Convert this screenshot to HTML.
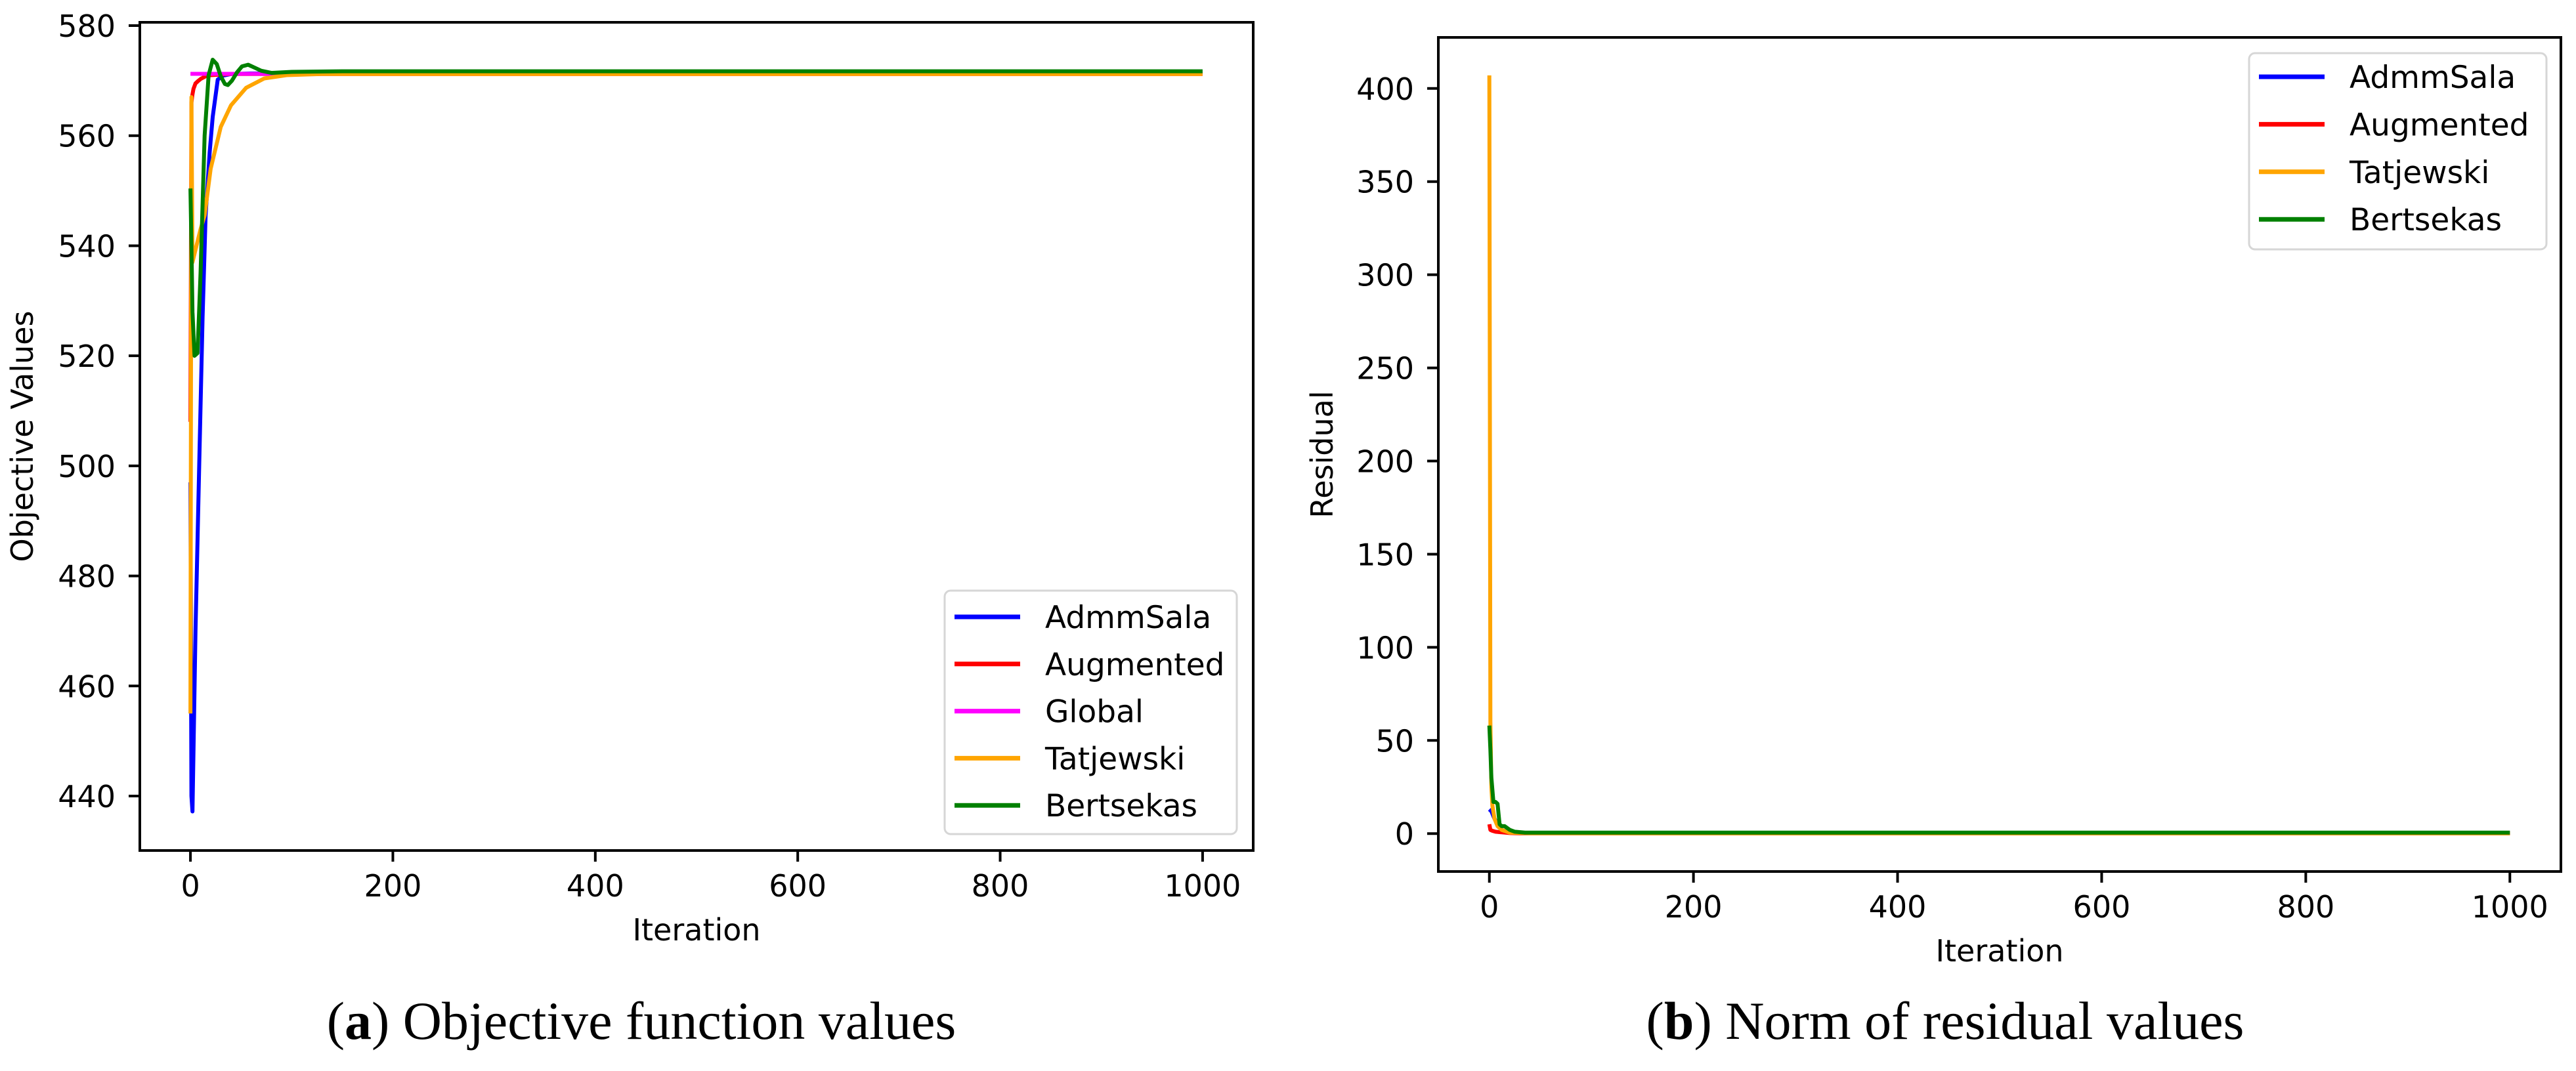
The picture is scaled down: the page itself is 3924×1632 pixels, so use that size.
<!DOCTYPE html>
<html><head><meta charset="utf-8"><title>Objective and residual plots</title>
<style>
html,body{margin:0;padding:0;background:#fff;}
svg{display:block;}
text{font-family:"DejaVu Sans","Liberation Sans",sans-serif;fill:#000;}
.cap{font-family:"Liberation Serif",serif;}
</style></head>
<body>
<svg id="fig" width="3924" height="1632" viewBox="0 0 3924 1632" xmlns="http://www.w3.org/2000/svg">
<g id="chartA"></g>
<g id="chartB"></g>
<text class="cap" x="977" y="1583" font-size="82" text-anchor="middle">(<tspan font-weight="bold">a</tspan>) Objective function values</text>
<text class="cap" x="2963" y="1583" font-size="82" text-anchor="middle">(<tspan font-weight="bold">b</tspan>) Norm of residual values</text>
</svg>
<script>
// ---- Chart A data (objective values) ----
const xTicksA = [0, 200, 400, 600, 800, 1000];
const yTicksA = [440, 460, 480, 500, 520, 540, 560, 580];
const seriesNamesA = ["AdmmSala", "Augmented", "Global", "Tatjewski", "Bertsekas"];
const admmIterA = [0, 1, 2, 5, 9, 12, 15, 19, 22, 27, 32, 40, 60, 1000];
const admmValA = [497, 440, 437.2, 470, 503, 527, 545.5, 557, 563.4, 570.2, 570.9, 571.2, 571.3, 571.3];
const augIterA = [0, 1, 2, 3, 5, 8, 10, 15, 20, 40, 1000];
const augValA = [508, 566, 567.5, 568.5, 569.5, 570, 570.3, 570.8, 571, 571.2, 571.2];
const globalIterA = [0, 1000];
const globalValA = [571.24, 571.24];
const tatIterA = [0, 1, 2, 6, 10, 14, 20, 30, 40, 55, 73, 95, 130, 200, 1000];
const tatValA = [455, 567, 537, 540, 543, 545.5, 554, 561.6, 565.5, 568.7, 570.4, 571, 571.2, 571.2, 571.2];
const bertIterA = [0, 1, 2, 4, 7, 10, 14, 18, 22, 26, 30, 34, 37, 41, 46, 51, 57, 63, 70, 80, 100, 150, 1000];
const bertValA = [550.4, 540, 528, 520, 520.5, 535, 560, 571, 573.8, 573, 570.8, 569.4, 569.2, 570, 571.5, 572.6, 572.9, 572.4, 571.8, 571.4, 571.6, 571.7, 571.7];

// ---- Chart B data (residuals) ----
const xTicksB = [0, 200, 400, 600, 800, 1000];
const yTicksB = [0, 50, 100, 150, 200, 250, 300, 350, 400];
const seriesNamesB = ["AdmmSala", "Augmented", "Tatjewski", "Bertsekas"];
const admmIterB = [0, 2, 5, 8, 12, 20, 30, 1000];
const admmValB = [13, 12, 8, 5, 2, 0.5, 0.3, 0.3];
const augIterB = [0, 1, 3, 6, 10, 20, 30, 1000];
const augValB = [5, 2, 1.5, 1, 0.8, 0.3, 0.1, 0.1];
const tatIterB = [0, 1, 2, 3, 5, 8, 12, 20, 40, 1000];
const tatValB = [407, 60, 25, 15, 8, 4, 2, 0.5, 0.1, 0.1];
const bertIterB = [0, 1, 2, 4, 6, 8, 10, 12, 15, 20, 25, 35, 1000];
const bertValB = [58, 45, 30, 17, 17, 16, 5, 4, 4, 2, 1, 0.5, 0.5];

const NS = "http://www.w3.org/2000/svg";
function mk(tag, attrs, parent) {
  const e = document.createElementNS(NS, tag);
  for (const k in attrs) e.setAttribute(k, attrs[k]);
  parent.appendChild(e);
  return e;
}

function drawChart(g, cfg) {
  const sx = v => cfg.left + (v - cfg.xmin) / (cfg.xmax - cfg.xmin) * (cfg.right - cfg.left);
  const sy = v => cfg.bottom - (v - cfg.ymin) / (cfg.ymax - cfg.ymin) * (cfg.bottom - cfg.top);
  // series
  cfg.series.forEach(s => {
    const pts = s.it.map((x, i) => sx(x).toFixed(1) + "," + sy(s.val[i]).toFixed(1)).join(" ");
    const pl = mk("polyline", {points: pts, fill: "none", stroke: s.color, "stroke-width": 6, "stroke-linejoin": "round"}, g);
    
    
  });
  // frame
  const fr = mk("rect", {x: cfg.left, y: cfg.top, width: cfg.right - cfg.left, height: cfg.bottom - cfg.top, fill: "none", stroke: "#000", "stroke-width": 4}, g);
  
  
  // x ticks
  cfg.xt.forEach(t => {
    const x = sx(t);
    const tk = mk("line", {x1: x, x2: x, y1: cfg.bottom, y2: cfg.bottom + 17, stroke: "#000", "stroke-width": 4}, g);
    
    
    const tl = mk("text", {x: x, y: cfg.bottom + 70, "font-size": 46, "text-anchor": "middle"}, g);
    tl.textContent = t;
    
    
  });
  // y ticks
  cfg.yt.forEach(t => {
    const y = sy(t);
    const tk = mk("line", {x1: cfg.left - 17, x2: cfg.left, y1: y, y2: y, stroke: "#000", "stroke-width": 4}, g);
    
    
    const tl = mk("text", {x: cfg.left - 37, y: y + 17, "font-size": 46, "text-anchor": "end"}, g);
    tl.textContent = t;
    
    
  });
  // axis labels
  const xl = mk("text", {x: (cfg.left + cfg.right) / 2, y: cfg.bottom + 137, "font-size": 46, "text-anchor": "middle"}, g);
  xl.textContent = "Iteration";
  
  
  const yc = (cfg.top + cfg.bottom) / 2;
  const yl = mk("text", {x: cfg.ylabX, y: yc, "font-size": 46, "text-anchor": "middle", transform: "rotate(-90 " + cfg.ylabX + " " + yc + ")"}, g);
  yl.textContent = cfg.ylabel;
  
  
  // legend
  const L = cfg.legend;
  const lb = mk("rect", {x: L.x, y: L.y, width: L.w, height: L.h, rx: 9, fill: "#fff", "fill-opacity": 0.85, stroke: "#d6d6d6", "stroke-width": 3}, g);
  
  
  cfg.series.forEach((s, i) => {
    const y = L.firstY + i * L.step;
    const ln = mk("line", {x1: L.x + 15, x2: L.x + 115, y1: y, y2: y, stroke: s.color, "stroke-width": 7}, g);
    
    
    const tx = mk("text", {x: L.x + 153, y: y + 17, "font-size": 47}, g);
    tx.textContent = s.name;
    
    
  });
}

drawChart(document.getElementById("chartA"), {
  left: 213, right: 1909, top: 34, bottom: 1296,
  xmin: -50, xmax: 1050, ymin: 430.1, ymax: 580.6,
  xt: xTicksA, yt: yTicksA, ylabel: "Objective Values", ylabX: 50,
  series: [
    {name: seriesNamesA[0], color: "#0000ff", it: admmIterA, val: admmValA},
    {name: seriesNamesA[1], color: "#ff0000", it: augIterA, val: augValA},
    {name: seriesNamesA[2], color: "#ff00ff", it: globalIterA, val: globalValA},
    {name: seriesNamesA[3], color: "#ffa500", it: tatIterA, val: tatValA},
    {name: seriesNamesA[4], color: "#008000", it: bertIterA, val: bertValA}
  ],
  legend: {x: 1439, y: 900, w: 445, h: 371, firstY: 940, step: 71.8}
});

drawChart(document.getElementById("chartB"), {
  left: 2191, right: 3901, top: 57, bottom: 1328,
  xmin: -50, xmax: 1050, ymin: -20.35, ymax: 427.4,
  xt: xTicksB, yt: yTicksB, ylabel: "Residual", ylabX: 2030,
  series: [
    {name: seriesNamesB[0], color: "#0000ff", it: admmIterB, val: admmValB},
    {name: seriesNamesB[1], color: "#ff0000", it: augIterB, val: augValB},
    {name: seriesNamesB[2], color: "#ffa500", it: tatIterB, val: tatValB},
    {name: seriesNamesB[3], color: "#008000", it: bertIterB, val: bertValB}
  ],
  legend: {x: 3426, y: 81, w: 453, h: 299, firstY: 117, step: 72.4}
});
</script>
</body></html>
